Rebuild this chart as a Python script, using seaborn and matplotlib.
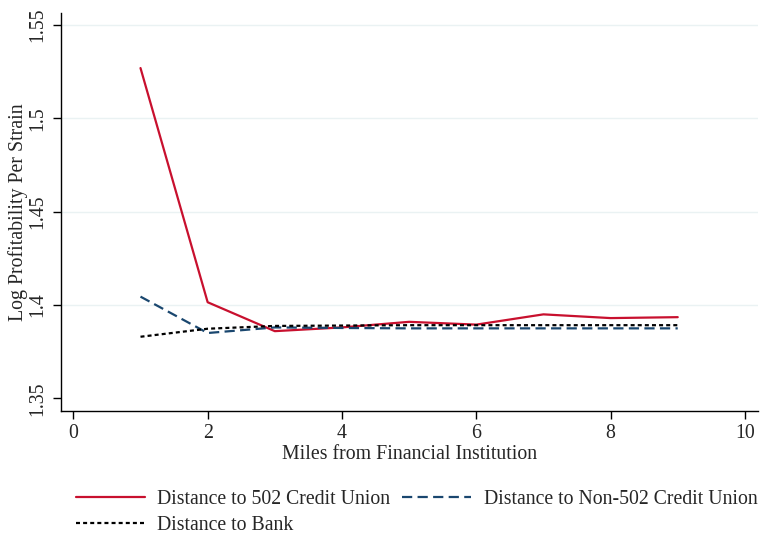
import pandas as pd
import seaborn as sns
import matplotlib.pyplot as plt

# values
miles = [1, 2, 3, 4, 5, 6, 7, 8, 9]
cu502 = [1.527, 1.4015, 1.386, 1.388, 1.391, 1.3895, 1.395, 1.393, 1.3935]
non502 = [1.4045, 1.385, 1.388, 1.3877, 1.3875, 1.3875, 1.3875, 1.3875, 1.3875]
bank = [1.383, 1.3873, 1.3888, 1.389, 1.3892, 1.3892, 1.3892, 1.3892, 1.3892]

labels = ["Distance to 502 Credit Union",
          "Distance to Non-502 Credit Union",
          "Distance to Bank"]
colors = ["#C8102E", "#1A476F", "#000000"]

df = pd.DataFrame({
    "miles": miles * 3,
    "value": cu502 + non502 + bank,
    "series": [labels[0]] * 9 + [labels[1]] * 9 + [labels[2]] * 9,
})

sns.set_theme(style="white")
plt.rcParams['font.family'] = ['Liberation Serif', 'DejaVu Serif']
fs = 14.3

fig = plt.figure(figsize=(7.6, 5.34), dpi=100)
ax = fig.add_axes([0.0799, 0.2303, 0.917, 0.745])

sns.lineplot(data=df, x="miles", y="value", hue="series", style="series",
             palette=dict(zip(labels, colors)),
             dashes={labels[0]: "", labels[1]: (4.6, 2.4), labels[2]: (1.8, 1.4)},
             linewidth=1.6, ax=ax, legend=False)

ax.set_xlim(-0.188, 10.19)
ax.set_ylim(1.3432, 1.5564)
ax.set_xticks([0, 2, 4, 6, 8, 10])
ax.set_yticks([1.35, 1.4, 1.45, 1.5, 1.55])
ax.set_yticklabels(["1.35", "1.4", "1.45", "1.5", "1.55"], rotation=90, va="center")

for g in [1.4, 1.45, 1.5, 1.55]:
    ax.axhline(g, color="#eaf2f3", lw=1.0, zorder=0)

for s in ["top", "right"]:
    ax.spines[s].set_visible(False)
for s in ["left", "bottom"]:
    ax.spines[s].set_color("black")
    ax.spines[s].set_linewidth(1.0)

ax.tick_params(axis="both", which="major", length=6, width=1.0, color="black",
               labelsize=fs, left=True, bottom=True)
ax.tick_params(axis="y", pad=4)
ax.tick_params(axis="x", pad=3)

ax.set_xlabel("Miles from Financial Institution", fontsize=fs, labelpad=2)
ax.set_ylabel("Log Profitability Per Strain", fontsize=fs)
ax.yaxis.set_label_coords(-0.047, 0.5)

handles = [plt.Line2D([], [], color=colors[0], lw=1.6),
           plt.Line2D([], [], color=colors[2], lw=1.6, dashes=(1.8, 1.4)),
           plt.Line2D([], [], color=colors[1], lw=1.6, dashes=(4.6, 2.4))]
fig.legend(handles, [labels[0], labels[2], labels[1]], ncol=2,
           loc="upper left", bbox_to_anchor=(0.089, 1 - 482 / 534), frameon=False,
           fontsize=14.2, handlelength=3.5, handletextpad=0.65,
           columnspacing=0.6, labelspacing=0.35, borderaxespad=0)

fig.savefig("out.png", dpi=100)
